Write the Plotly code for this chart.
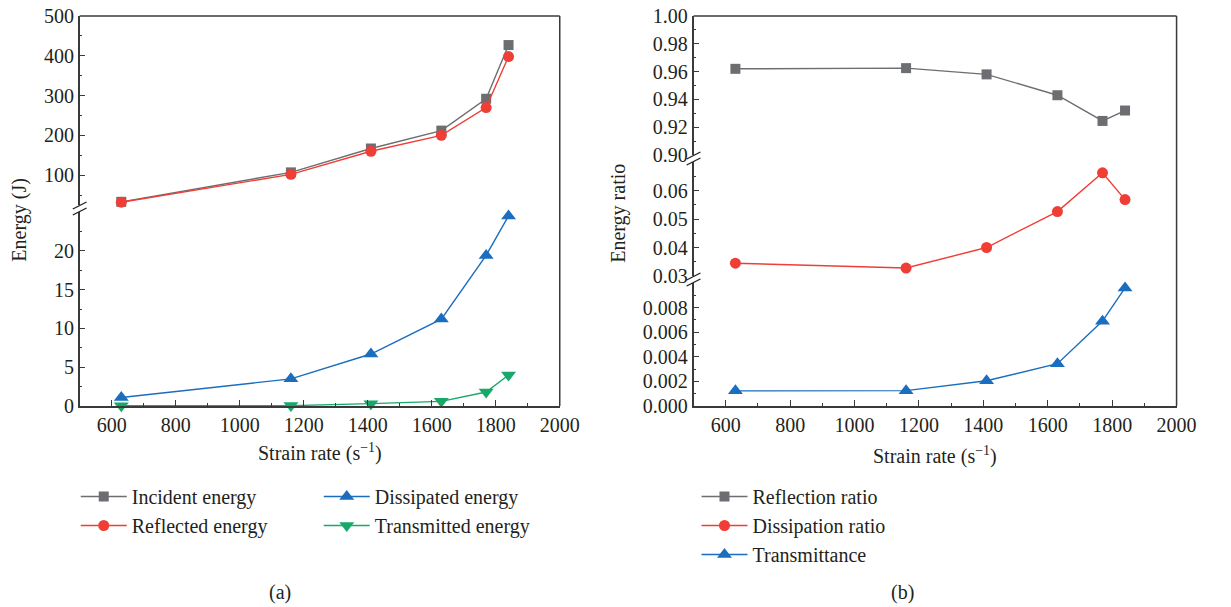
import plotly.graph_objects as go

# ---------------- data ----------------
strain_rate = [630, 1160, 1410, 1630, 1770, 1840]
incident_energy = [33, 107, 167, 212, 292, 427]
reflected_energy = [32, 102, 160, 200, 270, 398]
dissipated_energy = [1.1, 3.5, 6.7, 11.2, 19.4, 24.5]
transmitted_energy = [0.03, 0.05, 0.3, 0.6, 1.8, 4.0]

reflection_ratio = [0.962, 0.9625, 0.958, 0.943, 0.9245, 0.932]
dissipation_ratio = [0.0345, 0.0328, 0.040, 0.0526, 0.0662, 0.0568]
transmittance = [0.00123, 0.00125, 0.00205, 0.00344, 0.0069, 0.0096]

energy_ticks_low = [0, 5, 10, 15, 20]
energy_ticks_high = [100, 200, 300, 400, 500]
ratio_ticks_low = [0.000, 0.002, 0.004, 0.006, 0.008]
ratio_ticks_mid = [0.03, 0.04, 0.05, 0.06]
ratio_ticks_high = [0.90, 0.92, 0.94, 0.96, 0.98, 1.00]
x_ticks = [600, 800, 1000, 1200, 1400, 1600, 1800, 2000]

# ---------------- style ----------------
W, H = 1231, 607
MT, MB = 16, 201
PH = H - MT - MB  # plot height in px
FONT = "Liberation Serif"
TXT = "#231f20"
AX = "#3a3a3a"
GREY, RED, BLUE, GREEN = "#6d6e71", "#ef3e36", "#1a6dbf", "#17a86a"


def px(x):
    return x / W


def py(y):
    return (H - MB - y) / PH


LX0, LX1 = 81, 569
RX0, RX1 = 705, 1196

fig = go.Figure()


def add(x, y, name, color, symbol, size, xa, ya, legend, group):
    fig.add_trace(go.Scatter(
        x=x, y=y, name=name, mode="lines+markers",
        line=dict(color=color, width=1.4),
        marker=dict(color=color, symbol=symbol, size=size),
        xaxis=xa, yaxis=ya, legend=legend, legendgroup=group,
        cliponaxis=False,
    ))


add(strain_rate, incident_energy, "Incident energy", GREY, "square", 10, "x", "y2", "legend", "a")
add(strain_rate, reflected_energy, "Reflected energy", RED, "circle", 11, "x", "y2", "legend", "b")
add(strain_rate, dissipated_energy, "Dissipated energy", BLUE, "triangle-up", 13, "x", "y", "legend2", "c")
add(strain_rate, transmitted_energy, "Transmitted energy", GREEN, "triangle-down", 13, "x", "y", "legend2", "d")
add(strain_rate, reflection_ratio, "Reflection ratio", GREY, "square", 10, "x2", "y5", "legend3", "e")
add(strain_rate, dissipation_ratio, "Dissipation ratio", RED, "circle", 11, "x2", "y4", "legend3", "f")
add(strain_rate, transmittance, "Transmittance", BLUE, "triangle-up", 13, "x2", "y3", "legend3", "g")

tickfont = dict(family=FONT, size=20, color=TXT)


def xaxis(dom, anchor):
    return dict(domain=dom, anchor=anchor, range=[500, 2000], tickmode="array", tickvals=x_ticks,
                ticks="inside", ticklen=6, tickwidth=1.3, tickcolor=AX,
                minor=dict(ticks="inside", tickmode="linear", tick0=500, dtick=100, ticklen=3, tickcolor=AX),
                showline=True, linecolor=AX, linewidth=1.5, showgrid=False, zeroline=False,
                tickfont=tickfont)


def yaxis(dom, anchor, rng, vals, fmt, mdt, m0):
    return dict(domain=dom, anchor=anchor, range=rng, tickmode="array", tickvals=vals, tickformat=fmt,
                ticks="inside", ticklen=6, tickwidth=1.3, tickcolor=AX,
                minor=dict(ticks="inside", tickmode="linear", tick0=m0, dtick=mdt, ticklen=3, tickcolor=AX),
                showline=True, linecolor=AX, linewidth=1.5, showgrid=False, zeroline=False,
                tickfont=tickfont)


fig.update_layout(
    width=W, height=H,
    margin=dict(l=0, r=0, t=MT, b=MB),
    paper_bgcolor="white", plot_bgcolor="rgba(0,0,0,0)",
    font=dict(family=FONT, size=20, color=TXT),
    xaxis=xaxis([px(LX0), px(LX1)], "y"),
    yaxis=yaxis([0, py(212)], "x", [0, 25], energy_ticks_low, "d", 2.5, 0),
    yaxis2=yaxis([py(205), 1], "x", [25, 500], energy_ticks_high, "d", 50, 0),
    xaxis2=xaxis([px(RX0), px(RX1)], "y3"),
    yaxis3=yaxis([0, py(283)], "x2", [0, 0.010], ratio_ticks_low, ".3f", 0.001, 0),
    yaxis4=yaxis([py(276), py(162)], "x2", [0.03, 0.07], ratio_ticks_mid, ".2f", 0.005, 0),
    yaxis5=yaxis([py(155), 1], "x2", [0.90, 1.00], ratio_ticks_high, ".2f", 0.01, 0),
    showlegend=True,
)

legfont = dict(family=FONT, size=20, color=TXT)
for key, x in (("legend", 77), ("legend2", 324), ("legend3", 708)):
    fig.layout[key] = dict(x=px(x), y=py(477), xanchor="left", yanchor="top", font=legfont,
                           bgcolor="rgba(0,0,0,0)", traceorder="grouped", tracegroupgap=0,
                           itemwidth=46)

# frame lines (top & right) and axis breaks
shapes = []
for x0, x1 in ((LX0, LX1), (RX0, RX1)):
    shapes.append(dict(type="line", xref="paper", yref="paper", x0=px(x0), x1=px(x1), y0=1, y1=1,
                       line=dict(color=AX, width=1.5)))
    shapes.append(dict(type="line", xref="paper", yref="paper", x0=px(x1), x1=px(x1), y0=0, y1=1,
                       line=dict(color=AX, width=1.5)))
for ax_x, c in ((LX0, 208.5), (RX0, 158.5), (RX0, 279.5)):
    for o in (-3, 3):
        shapes.append(dict(type="line", xref="paper", yref="paper",
                           x0=px(ax_x - 7), y0=py(c + o + 3.5), x1=px(ax_x + 7), y1=py(c + o - 3.5),
                           line=dict(color=TXT, width=1.4)))
fig.update_layout(shapes=shapes)

ann = []
ann.append(dict(text="Energy (J)", x=px(20), y=py(220), textangle=-90))
ann.append(dict(text="Energy ratio", x=px(628), y=py(213), textangle=-90))
ann.append(dict(text="Strain rate (s<sup>−1</sup>)", x=px(325), y=py(452)))
ann.append(dict(text="Strain rate (s<sup>−1</sup>)", x=px(950), y=py(455)))
ann.append(dict(text="(a)", x=px(285), y=py(592)))
ann.append(dict(text="(b)", x=px(917), y=py(592)))
for a in ann:
    a.update(xref="paper", yref="paper", showarrow=False, xanchor="center", yanchor="middle",
             font=dict(family=FONT, size=20, color=TXT))
fig.update_layout(annotations=ann)

fig.write_html("out.html")
